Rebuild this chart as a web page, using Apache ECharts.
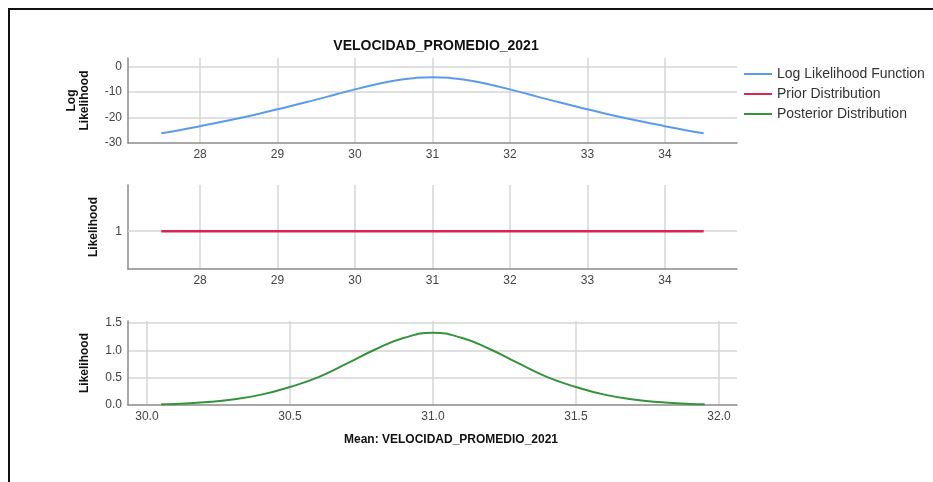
<!DOCTYPE html>
<html>
<head>
<meta charset="utf-8">
<script src="https://cdn.jsdelivr.net/npm/echarts@6/dist/echarts.min.js"></script>
<style>
  html, body { margin: 0; padding: 0; background: #fff; }
  #chart { width: 933px; height: 482px; }
  #frame { position: absolute; left: 8px; top: 8px; width: 940px; height: 490px;
           border-left: 2px solid #111; border-top: 2px solid #111; pointer-events: none; }
</style>
</head>
<body>
<div id="chart"></div>
<div id="frame"></div>
<script>
// Titles and series names
const chartTitle = 'VELOCIDAD_PROMEDIO_2021';
const xAxisTitle = 'Mean: VELOCIDAD_PROMEDIO_2021';
const seriesNames = ['Log Likelihood Function', 'Prior Distribution', 'Posterior Distribution'];
const yAxisNames = ['Log\nLikelihood', 'Likelihood', 'Likelihood'];

// Log likelihood of the mean
const meanGrid = [27.5, 27.75, 28, 28.25, 28.5, 28.75, 29, 29.25, 29.5, 29.75, 30, 30.25, 30.5, 30.75,
                  31, 31.25, 31.5, 31.75, 32, 32.25, 32.5, 32.75, 33, 33.25, 33.5, 33.75, 34, 34.25, 34.5];
const logLikelihood = [-26.2, -24.9, -23.4, -21.9, -20.3, -18.6, -16.8, -14.9, -13.0, -11.0, -9.0, -7.2, -5.6, -4.6,
                       -4.2, -4.6, -5.6, -7.2, -9.0, -11.0, -13.0, -14.9, -16.8, -18.6, -20.3, -21.9, -23.4, -24.9, -26.2];

// Flat prior
const priorMean = [27.5, 34.5];
const priorLikelihood = [1, 1];

// Posterior density of the mean
const posteriorMean = [30.05, 30.1, 30.2, 30.3, 30.4, 30.5, 30.6, 30.7, 30.8, 30.9, 31.0,
                       31.1, 31.2, 31.3, 31.4, 31.5, 31.6, 31.7, 31.8, 31.9, 31.95];
const posteriorLikelihood = [0.015, 0.02, 0.05, 0.10, 0.19, 0.33, 0.51, 0.76, 1.02, 1.23, 1.32,
                             1.23, 1.02, 0.76, 0.51, 0.33, 0.19, 0.10, 0.05, 0.02, 0.015];

const FONT = '"Liberation Sans", Arial, sans-serif';
const GRID_COLOR = '#d6d6d6';
const AXIS_COLOR = '#8a8a8a';
const LABEL_COLOR = '#444';

function pairs(xs, ys) { return xs.map((x, i) => [x, ys[i]]); }
function isMultiple(v, step) { return Math.abs(v / step - Math.round(v / step)) < 1e-6; }

function xAxis(gridIndex, min, max, splitNumber, step, digits) {
  return {
    type: 'value', gridIndex, min, max, splitNumber,
    axisLine: { show: true, onZero: false, lineStyle: { color: AXIS_COLOR, width: 1.5 } },
    axisTick: { show: false },
    axisLabel: {
      color: LABEL_COLOR, fontSize: 12, fontFamily: FONT, margin: 6,
      formatter: v => isMultiple(v, step) ? v.toFixed(digits) : ''
    },
    splitLine: { show: true, showMinLine: false, showMaxLine: false,
                 lineStyle: { color: GRID_COLOR, width: 1.5 } }
  };
}

function yAxis(gridIndex, min, max, interval, step, digits, name, nameGap, showSplit) {
  return {
    type: 'value', gridIndex, min, max, interval,
    name, nameLocation: 'middle', nameRotate: 90, nameGap,
    nameTextStyle: { fontSize: 12, fontWeight: 'bold', color: '#111', fontFamily: FONT, lineHeight: 13 },
    axisLine: { show: true, onZero: false, lineStyle: { color: AXIS_COLOR, width: 1.5 } },
    axisTick: { show: false },
    axisLabel: {
      color: LABEL_COLOR, fontSize: 12, fontFamily: FONT, margin: 6,
      formatter: v => isMultiple(v, step) ? (digits ? v.toFixed(digits) : String(Math.round(v))) : ''
    },
    splitLine: { show: showSplit, showMinLine: false, showMaxLine: false,
                 lineStyle: { color: GRID_COLOR, width: 1.5 } }
  };
}

const chart = echarts.init(document.getElementById('chart'), null, { renderer: 'canvas' });

chart.setOption({
  backgroundColor: 'transparent',
  animation: false,
  textStyle: { fontFamily: FONT },
  grid: [
    { left: 128, right: 196, top: 58, height: 85 },
    { left: 128, right: 196, top: 185, height: 84 },
    { left: 128, right: 196, top: 321, height: 84 }
  ],
  xAxis: [
    xAxis(0, 27.07, 34.93, 8, 1, 0),
    xAxis(1, 27.07, 34.93, 8, 1, 0),
    xAxis(2, 29.934, 32.063, 4, 0.5, 1)
  ],
  yAxis: [
    yAxis(0, -30, 3.3, 10, 10, 0, yAxisNames[0], 37, true),
    yAxis(1, 0.55, 1.55, 0.05, 1, 0, yAxisNames[1], 28, false),
    yAxis(2, 0, 1.537, 0.5, 0.5, 1, yAxisNames[2], 37, true)
  ],
  legend: {
    orient: 'vertical', left: 744, top: 67, padding: 0,
    data: seriesNames, icon: 'rect', itemWidth: 28, itemHeight: 2, itemGap: 6,
    textStyle: { fontSize: 14, color: '#333', fontFamily: FONT }
  },
  graphic: [
    { type: 'text', x: 436, y: 46, silent: true,
      style: { text: chartTitle, align: 'center', verticalAlign: 'middle',
               font: 'bold 14px "Liberation Sans", Arial, sans-serif', fill: '#111' } },
    { type: 'text', x: 451, y: 440, silent: true,
      style: { text: xAxisTitle, align: 'center', verticalAlign: 'middle',
               font: 'bold 12px "Liberation Sans", Arial, sans-serif', fill: '#111' } }
  ],
  series: [
    {
      name: seriesNames[0], type: 'line', xAxisIndex: 0, yAxisIndex: 0,
      data: pairs(meanGrid, logLikelihood), smooth: true, symbol: 'none',
      lineStyle: { color: '#5a9bee', width: 2 }, itemStyle: { color: '#5a9bee' }, z: 3
    },
    {
      // grid line at likelihood 1, kept underneath the prior
      name: 'priorGrid', type: 'line', xAxisIndex: 1, yAxisIndex: 1, data: [], z: 1,
      markLine: { silent: true, symbol: 'none', z: 1, label: { show: false },
                  lineStyle: { color: GRID_COLOR, width: 1.5, type: 'solid' },
                  data: [{ yAxis: 1 }] }
    },
    {
      name: seriesNames[1], type: 'line', xAxisIndex: 1, yAxisIndex: 1,
      data: pairs(priorMean, priorLikelihood), symbol: 'none',
      lineStyle: { color: '#dc2452', width: 2.5 }, itemStyle: { color: '#dc2452' }, z: 6
    },
    {
      name: seriesNames[2], type: 'line', xAxisIndex: 2, yAxisIndex: 2,
      data: pairs(posteriorMean, posteriorLikelihood), smooth: true, symbol: 'none',
      lineStyle: { color: '#34943a', width: 2 }, itemStyle: { color: '#34943a' }, z: 3
    }
  ]
});
</script>
</body>
</html>
